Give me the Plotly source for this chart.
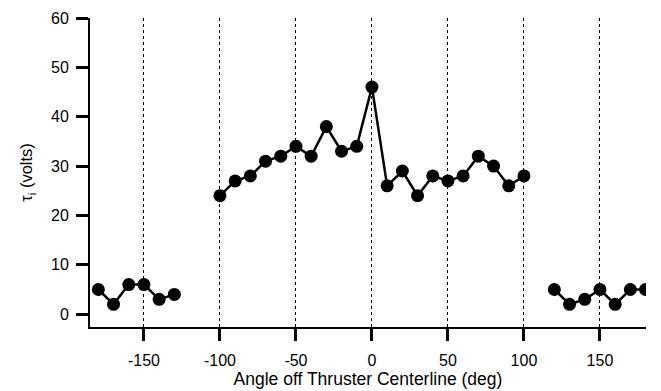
import plotly.graph_objects as go

angles = [-180, -170, -160, -150, -140, -130, -120, -110,
          -100, -90, -80, -70, -60, -50, -40, -30, -20, -10,
          0, 10, 20, 30, 40, 50, 60, 70, 80, 90, 100,
          110, 120, 130, 140, 150, 160, 170, 180]
tau_i = [5, 2, 6, 6, 3, 4, None, None,
         24, 27, 28, 31, 32, 34, 32, 38, 33, 34,
         46, 26, 29, 24, 28, 27, 28, 32, 30, 26, 28,
         None, 5, 2, 3, 5, 2, 5, 5]

x_ticks = [-150, -100, -50, 0, 50, 100, 150]
x_tick_labels = ["-150", "-100", "-50", "0", "50", "100", "150"]
y_ticks = [0, 10, 20, 30, 40, 50, 60]

font = "Liberation Sans, Arial, Helvetica, sans-serif"

fig = go.Figure()
fig.add_trace(go.Scatter(
    x=angles, y=tau_i, mode="lines+markers",
    connectgaps=False,
    line=dict(color="black", width=2.5),
    marker=dict(color="black", size=13),
    showlegend=False,
))

fig.update_layout(
    width=661, height=391,
    margin=dict(l=90, r=15, t=18, b=64, autoexpand=False),
    paper_bgcolor="white", plot_bgcolor="white",
    font=dict(family=font, size=16, color="black"),
    xaxis=dict(
        range=[-185.5, 180.3],
        automargin=False,
        tickvals=x_ticks, ticktext=x_tick_labels,
        showgrid=True, gridcolor="black", gridwidth=1, griddash="dot",
        zeroline=False,
        showline=True, linecolor="black", linewidth=2,
        ticks="outside", ticklen=12, tickwidth=2.5, tickcolor="black",
        ticklabelstandoff=6,
        title=dict(text="Angle off Thruster Centerline (deg)", font=dict(size=17.5), standoff=5),
    ),
    yaxis=dict(
        range=[-2.6, 60],
        automargin=False,
        tickvals=y_ticks,
        showgrid=False, zeroline=False,
        showline=True, linecolor="black", linewidth=2,
        ticks="outside", ticklen=12, tickwidth=2.5, tickcolor="black",
        ticklabelstandoff=4,
        title=dict(text="τ<sub>i</sub> (volts)", font=dict(size=16.5), standoff=14),
    ),
)

fig.write_html("out.html")
